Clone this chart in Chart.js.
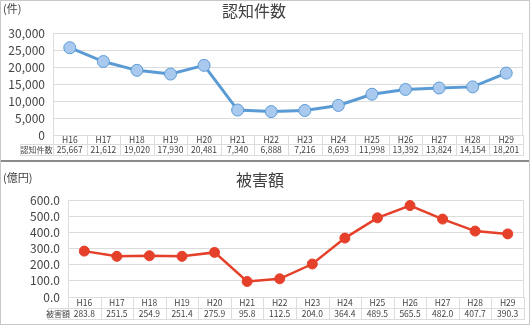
<!DOCTYPE html>
<html>
<head>
<meta charset="utf-8">
<script src="https://cdn.jsdelivr.net/npm/chart.js@4.4.0/dist/chart.umd.min.js"></script>
<style>
  body { margin: 0; background: #fff; }
  #wrap { position: relative; width: 530px; height: 325px; overflow: hidden; }
  #wrap canvas { position: absolute; left: 0; }
  #c1 { top: 0; }
  #c2 { top: 162px; }
  #sep { position: absolute; left: 0; top: 160px; width: 530px; height: 2px; background: #8a8a8a; }
  #frame { position: absolute; left: 0; top: 0; width: 528px; height: 323px; border: 1px solid #c8c8c8; pointer-events: none; }
</style>
</head>
<body>
<div id="wrap">
  <canvas id="c1" width="530" height="160"></canvas>
  <div id="sep"></div>
  <canvas id="c2" width="530" height="163"></canvas>
  <div id="frame"></div>
</div>
<script>
// --- Data ---
const years = ['H16', 'H17', 'H18', 'H19', 'H20', 'H21', 'H22', 'H23', 'H24', 'H25', 'H26', 'H27', 'H28', 'H29'];
const cases = [25667, 21612, 19020, 17930, 20481, 7340, 6888, 7216, 8693, 11998, 13392, 13824, 14154, 18201];
const damage = [283.8, 251.5, 254.9, 251.4, 275.9, 95.8, 112.5, 204.0, 364.4, 489.5, 565.5, 482.0, 407.7, 390.3];

const FONT = '"Noto Sans CJK JP", "Noto Sans", sans-serif';
const TEXT = '#444';
const GRID = '#dcdcdc';

Chart.defaults.font.family = FONT;
Chart.defaults.color = TEXT;

// --- Title, unit and data table plugin ---
const tablePlugin = {
    id: 'dataTable',
    afterDraw(chart, args, opts) {
        const ctx = chart.ctx;
        const x = chart.scales.x;
        const area = chart.chartArea;
        const n = opts.values.length;
        const step = (area.right - area.left) / n;
        const row1 = area.bottom + opts.rowH1;
        const row2 = row1 + opts.rowH2;

        ctx.save();
        // title + unit
        ctx.fillStyle = '#404040';
        ctx.font = '16px ' + FONT;
        ctx.textAlign = 'center';
        ctx.textBaseline = 'middle';
        ctx.fillText(opts.title, opts.titleX, opts.titleY);
        ctx.font = '11px ' + FONT;
        ctx.textAlign = 'left';
        ctx.fillText(opts.unit, 3, opts.unitY);

        // table lines
        ctx.strokeStyle = GRID;
        ctx.lineWidth = 1;
        ctx.beginPath();
        ctx.moveTo(opts.labelLeft, row1 + 0.5); ctx.lineTo(area.right, row1 + 0.5);
        ctx.moveTo(opts.labelLeft, row2 - 0.5); ctx.lineTo(area.right, row2 - 0.5);
        ctx.moveTo(opts.labelLeft + 0.5, row1); ctx.lineTo(opts.labelLeft + 0.5, row2);
        for (let i = 0; i <= n; i++) {
            const px = Math.round(area.left + i * step) + 0.5;
            ctx.moveTo(px, area.bottom); ctx.lineTo(px, row2);
        }
        ctx.stroke();

        // table text
        ctx.fillStyle = TEXT;
        ctx.font = '8.5px ' + FONT;
        ctx.textAlign = 'center';
        ctx.textBaseline = 'middle';
        years.forEach((y, i) => {
            const px = x.getPixelForValue(i);
            ctx.fillText(y, px, (area.bottom + row1) / 2 + 0.5);
            ctx.fillText(opts.format(opts.values[i]), px, (row1 + row2) / 2);
        });
        ctx.font = '8px ' + FONT;
        ctx.fillText(opts.rowLabel, (opts.labelLeft + area.left) / 2, (row1 + row2) / 2);
        ctx.restore();
    }
};

function makeChart(id, values, cfg) {
    return new Chart(document.getElementById(id), {
        type: 'line',
        data: {
            labels: years,
            datasets: [{
                data: values,
                borderColor: cfg.line,
                borderWidth: cfg.lineWidth,
                backgroundColor: cfg.fill,
                pointBackgroundColor: cfg.fill,
                pointBorderColor: cfg.line,
                pointBorderWidth: 1,
                pointRadius: cfg.radius,
                tension: 0
            }]
        },
        options: {
            responsive: false,
            animation: false,
            layout: { padding: cfg.padding },
            plugins: {
                legend: { display: false },
                tooltip: { enabled: false },
                dataTable: cfg.table
            },
            scales: {
                x: { display: false, offset: true },
                y: {
                    min: 0, max: cfg.max,
                    afterFit: s => { s.width = cfg.axisW; },
                    border: { display: true, color: GRID },
                    grid: { color: GRID, drawTicks: false },
                    ticks: {
                        stepSize: cfg.max / 6,
                        autoSkip: false,
                        padding: 8,
                        color: TEXT,
                        font: { size: 12, family: FONT },
                        callback: cfg.tick
                    }
                }
            }
        },
        plugins: [tablePlugin, {
            id: 'frameRight',
            afterDraw(chart) {
                const a = chart.chartArea, c = chart.ctx;
                c.save();
                c.strokeStyle = GRID;
                c.beginPath();
                c.moveTo(Math.round(a.right) - 0.5, a.top); c.lineTo(Math.round(a.right) - 0.5, a.bottom);
                c.stroke();
                c.restore();
            }
        }]
    });
}

makeChart('c1', cases, {
    line: '#5b9bd5', fill: '#a9c9ee', lineWidth: 3, radius: 6,
    max: 30000, axisW: 53,
    padding: { left: 0, right: 3, top: 33, bottom: 25 },
    tick: v => v.toLocaleString('en-US'),
    table: {
        values: cases, rowLabel: '認知件数', labelLeft: 20,
        rowH1: 9, rowH2: 12,
        title: '認知件数', titleX: 254, titleY: 11,
        unit: '(件)', unitY: 9,
        format: v => v.toLocaleString('en-US')
    }
});

makeChart('c2', damage, {
    line: '#e5402a', fill: '#e5402a', lineWidth: 2.5, radius: 5,
    max: 600, axisW: 68,
    padding: { left: 0, right: 2, top: 38, bottom: 28 },
    tick: v => v.toFixed(1),
    table: {
        values: damage, rowLabel: '被害額', labelLeft: 48,
        rowH1: 11, rowH2: 12,
        title: '被害額', titleX: 260, titleY: 18,
        unit: '(億円)', unitY: 16,
        format: v => v.toFixed(1)
    }
});
</script>
</body>
</html>
